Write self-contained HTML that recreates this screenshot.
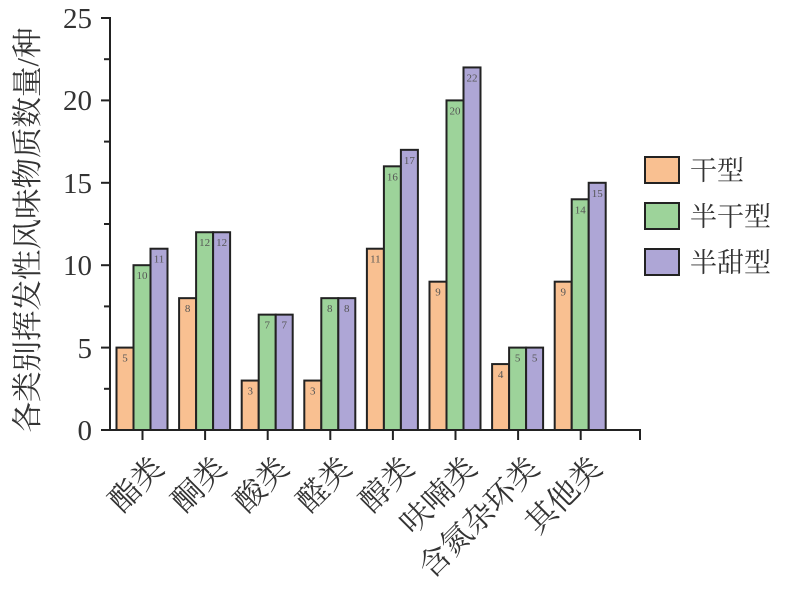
<!DOCTYPE html>
<html><head><meta charset="utf-8"><style>
html,body{margin:0;padding:0;background:#fff;}
svg{display:block;}
text{font-family:"Liberation Serif","Noto Serif CJK SC",serif;}
</style></head><body>
<svg width="797" height="595" viewBox="0 0 797 595" xmlns="http://www.w3.org/2000/svg">
<g id="bars" stroke="#222" stroke-width="2"></g>
<g id="lab" font-size="11" fill="#555" text-anchor="middle"></g>
<line x1="110" y1="17" x2="110" y2="431" stroke="#222" stroke-width="2"/>
<line x1="109" y1="430" x2="641" y2="430" stroke="#222" stroke-width="2"/>
<line x1="640" y1="430" x2="640" y2="440" stroke="#222" stroke-width="2"/>
<g id="ticks" stroke="#222" stroke-width="2"></g>
<g font-size="29" fill="#333" text-anchor="end">
<text x="92" y="440">0</text><text x="92" y="358">5</text><text x="92" y="275">10</text><text x="92" y="193">15</text><text x="92" y="110">20</text><text x="92" y="28">25</text>
</g>
<text transform="translate(38,230) rotate(-90)" font-size="30.5" fill="#333" text-anchor="middle">各类别挥发性风味物质数量/种</text>
<g id="xl" font-size="31" fill="#333" text-anchor="end"></g>
<g stroke="#222" stroke-width="2">
<rect x="645" y="157" width="34" height="26" fill="#f9c091"/>
<rect x="645" y="203" width="34" height="26" fill="#9dd39a"/>
<rect x="645" y="249" width="34" height="26" fill="#aea6d6"/>
</g>
<g font-size="27" fill="#333">
<text x="690" y="180">干型</text><text x="690" y="226">半干型</text><text x="690" y="272">半甜型</text>
</g>
</svg>
<script>
var d=[[5,10,11],[8,12,12],[3,7,7],[3,8,8],[11,16,17],[9,20,22],[4,5,5],[9,14,15]];
var names=["酯类","酮类","酸类","醛类","醇类","呋喃类","含氮杂环类","其他类"];
var col=["#f9c091","#9dd39a","#aea6d6"];
var ns="http://www.w3.org/2000/svg";
var k=16.48,y0=430;
function el(t,a,p,txt){var e=document.createElementNS(ns,t);for(var i in a)e.setAttribute(i,a[i]);if(txt!=null)e.textContent=txt;document.getElementById(p).appendChild(e);}
for(var g=0;g<8;g++){var c=142.5+g*62.6;
 for(var s=0;s<3;s++){var x=c-26+s*17,h=d[g][s]*k;
  el("rect",{x:x,y:y0-h,width:17,height:h,fill:col[s]},"bars");
  el("text",{x:x+8.5,y:y0-h+14},"lab",d[g][s]);}
 el("line",{x1:c,y1:430,x2:c,y2:440},"ticks");
 el("text",{transform:"translate("+(c+23)+",470) rotate(-45)"},"xl",names[g]);
}
for(var v=0;v<=25;v+=2.5){var y=y0-v*k;el("line",{x1:(v%5==0?101:104),y1:y,x2:110,y2:y},"ticks");}
</script>
</body></html>
